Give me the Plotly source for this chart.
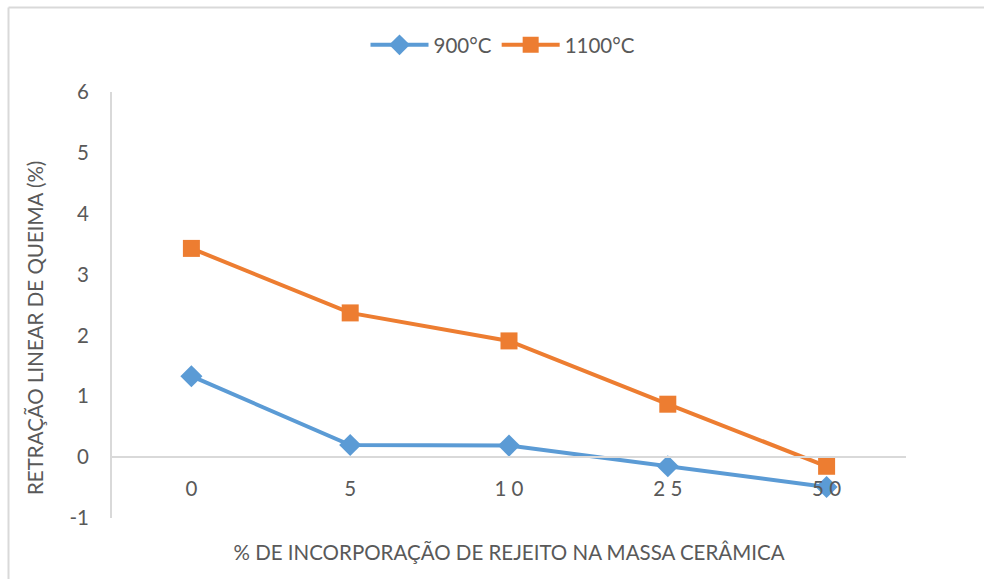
import plotly.graph_objects as go

# Percentage of waste incorporated in the ceramic body (category labels)
categories = ["0", "5", "10", "25", "50"]
tick_labels = ["0", "5", "1 0", "2 5", "5 0"]

# Linear firing shrinkage (%) for each firing temperature
shrink_900 = [1.33, 0.20, 0.19, -0.15, -0.49]
shrink_1100 = [3.43, 2.37, 1.91, 0.87, -0.15]

y_ticks = [-1, 0, 1, 2, 3, 4, 5, 6]
y_tick_text = ["-1", "0", "1", "2", "3", "4", "5", "6"]

BLUE = "#5B9BD5"
ORANGE = "#ED7D31"
TEXT = "#595959"
AXIS = "#D9D9D9"
FONT = "Lato"
SIZE = 20.5

# Plot area in pixels
L, R, T, B = 112, 78, 92, 61
W, H = 984, 579
PW, PH = W - L - R, H - T - B


def px_x(x):
    return (x - L) / PW


def px_y(y):
    return (H - B - y) / PH


fig = go.Figure()
fig.add_trace(go.Scatter(
    x=categories, y=shrink_900, name="900°C", mode="lines+markers",
    line=dict(color=BLUE, width=4),
    marker=dict(symbol="diamond", size=17, color=BLUE),
))
fig.add_trace(go.Scatter(
    x=categories, y=shrink_1100, name="1100°C", mode="lines+markers",
    line=dict(color=ORANGE, width=4),
    marker=dict(symbol="square", size=17, color=ORANGE),
))

fig.update_layout(
    width=W, height=H,
    margin=dict(l=L, r=R, t=T, b=B, autoexpand=False),
    paper_bgcolor="white", plot_bgcolor="white",
    font=dict(family=FONT, size=SIZE, color=TEXT),
    showlegend=True,
    legend=dict(
        orientation="h", x=px_x(503), xanchor="center", y=px_y(45),
        yanchor="middle", font=dict(size=SIZE, color=TEXT), itemwidth=58,
    ),
    xaxis=dict(
        type="category", categoryorder="array", categoryarray=categories,
        tickmode="array", tickvals=categories, ticktext=tick_labels,
        range=[-0.5, 4.5], anchor="free", position=1 / 7,
        showline=True, linecolor=AXIS, linewidth=2,
        showgrid=False, zeroline=False, ticks="",
        ticklabelstandoff=13,
        title=dict(text="% DE INCORPORAÇÃO DE REJEITO NA MASSA CERÂMICA",
                   standoff=46, font=dict(size=SIZE, color=TEXT)),
    ),
    yaxis=dict(
        range=[-1, 6], tickmode="array", tickvals=y_ticks,
        ticktext=y_tick_text,
        showline=True, linecolor=AXIS, linewidth=2,
        showgrid=False, zeroline=False, ticks="",
        ticklabelstandoff=17,
    ),
)

# Vertical axis title
fig.add_annotation(
    text="RETRAÇÃO LINEAR DE QUEIMA (%)", textangle=-90,
    xref="paper", yref="paper", x=px_x(35), y=px_y(328),
    xanchor="center", yanchor="middle", showarrow=False,
    font=dict(size=SIZE, color=TEXT),
)

# Chart-area frame: top and left edges
fig.add_shape(type="line", xref="paper", yref="paper",
              x0=px_x(8.5), x1=px_x(W), y0=px_y(7.5), y1=px_y(7.5),
              line=dict(color=AXIS, width=2))
fig.add_shape(type="line", xref="paper", yref="paper",
              x0=px_x(8.5), x1=px_x(8.5), y0=px_y(7.5), y1=px_y(H),
              line=dict(color=AXIS, width=2))

fig.write_html("out.html")
